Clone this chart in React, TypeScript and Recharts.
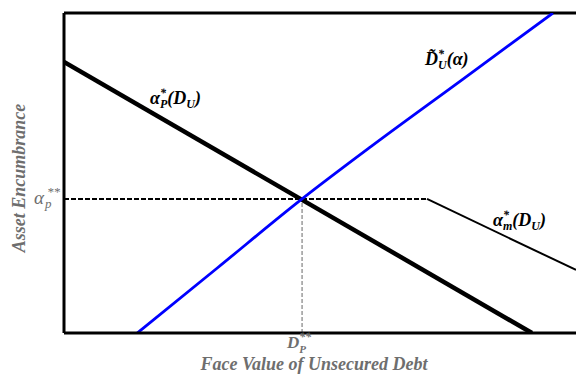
import React from "react";
import {
  LineChart,
  Line,
  XAxis,
  YAxis,
  ReferenceLine,
  ReferenceDot,
} from "recharts";

// values (arbitrary units, both axes 0..10)
const alphaPStar = 4.19; // α_p**
const dPStar = 4.65; // D_P**
const kinkX = 7.09;

const alphaPX = [0, 9.14];
const alphaPY = [8.47, 0];

const flatX = [0, kinkX];
const flatY = [alphaPStar, alphaPStar];

const alphaMX = [kinkX, 10];
const alphaMY = [alphaPStar, 1.97];

const dTildeX = [1.43, 3.0, 4.65, 6.0, 7.8, 9.55];
const dTildeY = [0, 2.04, 4.19, 5.83, 7.94, 10];

const guideX = [dPStar, dPStar];
const guideY = [0, alphaPStar];

const toRows = (xs: number[], ys: number[]) =>
  xs.map((x, i) => ({ x, y: ys[i] }));

const serif = "'Liberation Serif', 'Times New Roman', serif";
const grey = "#6e6e6e";

function YTick(props: any) {
  const { y } = props;
  return (
    <g fill={grey} fontFamily={serif} fontStyle="italic">
      <text x={34} y={y + 5} fontSize={19}>α</text>
      <text x={47} y={y - 3} fontSize={13}>**</text>
      <text x={45} y={y + 9} fontSize={13}>p</text>
    </g>
  );
}

function XTick(props: any) {
  const { x } = props;
  return (
    <text
      x={x - 15}
      y={348}
      fill={grey}
      fontFamily={serif}
      fontStyle="italic"
      fontWeight="bold"
      fontSize={17}
    >
      <tspan>D</tspan>
      <tspan fontSize={12} dy={-7}>**</tspan>
      <tspan fontSize={11} dx={-12} dy={12}>P</tspan>
    </text>
  );
}

function CurveLabel(props: any) {
  const { viewBox, main, tilde, sub, arg, argSub } = props;
  const x = viewBox.x + viewBox.width / 2;
  const y = viewBox.y + viewBox.height / 2;
  return (
    <text
      x={x}
      y={y}
      fill="#000"
      fontFamily={serif}
      fontStyle="italic"
      fontWeight="bold"
      fontSize={18}
    >
      <tspan>{tilde ? main + "\u0303" : main}</tspan>
      <tspan fontSize={12} dy={-7}>*</tspan>
      <tspan fontSize={12} dx={-6} dy={11}>{sub}</tspan>
      <tspan fontSize={18} dy={-4}>({arg}</tspan>
      {argSub ? (
        <tspan fontSize={12} dy={4}>{argSub}</tspan>
      ) : null}
      <tspan fontSize={18} dy={argSub ? -4 : 0}>)</tspan>
    </text>
  );
}

export default function App() {
  return (
    <div style={{ position: "absolute", left: 0, top: 0, background: "#fff" }}>
      <LineChart
        width={576}
        height={378}
        margin={{ top: 13, right: 0, bottom: 0, left: 0 }}
      >
        <XAxis
          type="number"
          dataKey="x"
          domain={[0, 10]}
          ticks={[dPStar]}
          tick={<XTick />}
          tickLine={false}
          axisLine={{ stroke: "#000", strokeWidth: 3 }}
          height={45}
          allowDataOverflow
          label={{
            content: () => (
              <text
                x={314}
                y={370}
                textAnchor="middle"
                fill={grey}
                fontFamily={serif}
                fontStyle="italic"
                fontWeight="bold"
                fontSize={18}
              >
                Face Value of Unsecured Debt
              </text>
            ),
          }}
        />
        <YAxis
          type="number"
          dataKey="y"
          domain={[0, 10]}
          ticks={[alphaPStar]}
          tick={<YTick />}
          tickLine={false}
          axisLine={{ stroke: "#000", strokeWidth: 3 }}
          width={64}
          allowDataOverflow
          label={{
            content: () => (
              <text
                x={25}
                y={178}
                transform="rotate(-90, 25, 178)"
                textAnchor="middle"
                fill={grey}
                fontFamily={serif}
                fontStyle="italic"
                fontWeight="bold"
                fontSize={18}
              >
                Asset Encumbrance
              </text>
            ),
          }}
        />
        <ReferenceLine y={10} stroke="#000" strokeWidth={3} />
        <Line
          data={toRows(guideX, guideY)}
          dataKey="y"
          stroke="#9a9a9a"
          strokeWidth={1.5}
          strokeDasharray="4 2"
          dot={false}
          activeDot={false}
          isAnimationActive={false}
        />
        <Line
          data={toRows(flatX, flatY)}
          dataKey="y"
          stroke="#000"
          strokeWidth={2}
          strokeDasharray="5 2"
          dot={false}
          activeDot={false}
          isAnimationActive={false}
        />
        <Line
          data={toRows(alphaMX, alphaMY)}
          dataKey="y"
          stroke="#000"
          strokeWidth={2}
          dot={false}
          activeDot={false}
          isAnimationActive={false}
        />
        <Line
          data={toRows(alphaPX, alphaPY)}
          dataKey="y"
          stroke="#000"
          strokeWidth={4.5}
          dot={false}
          activeDot={false}
          isAnimationActive={false}
        />
        <Line
          data={toRows(dTildeX, dTildeY)}
          dataKey="y"
          type="monotone"
          stroke="#0000ff"
          strokeWidth={2.8}
          dot={false}
          activeDot={false}
          isAnimationActive={false}
        />
        <ReferenceDot
          x={1.68}
          y={7.16}
          r={0}
          fill="none"
          stroke="none"
          label={<CurveLabel main="α" sub="P" arg="D" argSub="U" />}
        />
        <ReferenceDot
          x={7.05}
          y={8.38}
          r={0}
          fill="none"
          stroke="none"
          label={<CurveLabel main="D" tilde sub="U" arg="α" />}
        />
        <ReferenceDot
          x={8.38}
          y={3.34}
          r={0}
          fill="none"
          stroke="none"
          label={<CurveLabel main="α" sub="m" arg="D" argSub="U" />}
        />
      </LineChart>
    </div>
  );
}
